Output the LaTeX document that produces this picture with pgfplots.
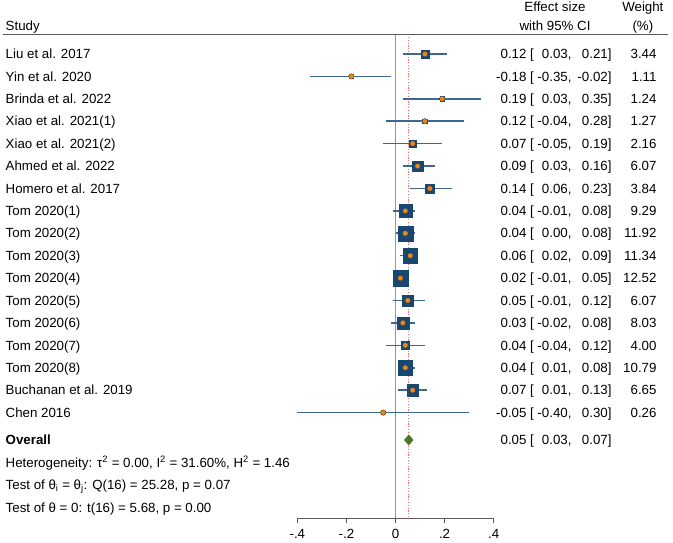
\documentclass[border=0pt]{standalone}
\usepackage{pgfplots}
\pgfplotsset{compat=1.18}
\usepackage{pgfplotstable}
\usepackage{fontspec}
\setmainfont{Liberation Sans}
\definecolor{navy}{RGB}{26,71,111}
\definecolor{cicol}{RGB}{62,102,146}
\definecolor{dotor}{RGB}{240,132,12}
\definecolor{diagreen}{RGB}{76,118,40}
\definecolor{refred}{RGB}{255,110,110}
\definecolor{zerogray}{RGB}{150,150,150}
\definecolor{hdrgray}{RGB}{90,90,90}
\pgfplotstableread{
y      est    lo     hi     w
-54.0   0.12   0.03  0.21   3.44
-76.4  -0.18  -0.35 -0.02   1.11
-98.8   0.19   0.03  0.35   1.24
-121.2  0.12  -0.04  0.28   1.27
-143.6  0.07  -0.05  0.19   2.16
-166.1  0.09   0.03  0.16   6.07
-188.5  0.14   0.06  0.23   3.84
-210.9  0.04  -0.01  0.08   9.29
-233.3  0.04   0.00  0.08  11.92
-255.7  0.06   0.02  0.09  11.34
-278.1  0.02  -0.01  0.05  12.52
-300.5  0.05  -0.01  0.12   6.07
-322.9  0.03  -0.02  0.08   8.03
-345.3  0.04  -0.04  0.12   4.00
-367.7  0.04   0.01  0.08  10.79
-390.2  0.07   0.01  0.13   6.65
-412.6 -0.05  -0.40  0.30   0.26
}\studies
\newcommand\fs{\fontsize{13.3pt}{15pt}\selectfont}
\newcommand\lbl[2]{\node[anchor=base west, yshift=-4.7pt] at (axis cs:-1.5892,-#1) {#2};}
\newcommand\cirow[5]{%
 \node[anchor=base east, yshift=-4.7pt] at (axis cs:0.5346,-#1) {#2};
 \node[anchor=base west, yshift=-4.7pt] at (axis cs:0.5481,-#1) {[};
 \node[anchor=base east, yshift=-4.7pt] at (axis cs:0.7180,-#1) {#3,};
 \node[anchor=base east, yshift=-4.7pt] at (axis cs:0.8810,-#1) {#4]};
 \node[anchor=base east, yshift=-4.7pt] at (axis cs:1.0644,-#1) {#5};}
\newcommand\xtk[2]{%
 \draw[hdrgray, line width=0.8pt] (axis cs:#1,-518.3) -- (axis cs:#1,-522.5);
 \node[anchor=base, yshift=-4.7pt] at (axis cs:#1,-534) {#2};}
\begin{document}
\begin{tikzpicture}[every node/.style={font=\fs, inner sep=0pt}]
\begin{axis}[scale only axis, width=673pt, height=542pt, hide axis, clip=false,
  xmin=-1.6117, xmax=1.1308, ymin=-542, ymax=0, enlargelimits=false]
\path (rel axis cs:0,0) rectangle (rel axis cs:1,1);
% reference lines
\addplot[zerogray, line width=1pt] coordinates {(0,-34.3) (0,-518.3)};
\addplot[refred, line width=1pt, dash pattern=on 1.2pt off 1.6pt] coordinates {(0.054,-34.3) (0.054,-518.3)};
% CIs
\addplot[only marks, mark=none, line width=1.6pt, error bars/.cd, x dir=both, x explicit, error mark=none,
  error bar style={line width=1.6pt, cicol}]
  table[x=est, y=y, x error plus expr=\thisrow{hi}-\thisrow{est}, x error minus expr=\thisrow{est}-\thisrow{lo}] \studies;
% weight squares
\addplot[scatter, only marks, mark=square*, scatter/use mapped color={draw=navy, fill=navy},
  visualization depends on={2.15*sqrt(\thisrow{w}) \as \msz},
  scatter/@pre marker code/.append style={/tikz/mark size=\msz}]
  table[x=est, y=y] \studies;
% point estimates
\addplot[only marks, mark=*, mark size=2.2pt, draw=dotor, fill=dotor] table[x=est, y=y] \studies;
% overall diamond
\addplot[fill=diagreen, draw=diagreen] coordinates {(0.036,-440) (0.054,-434.8) (0.072,-440) (0.054,-445.2) (0.036,-440)};
% header
\node[anchor=base west, yshift=-4.7pt] at (axis cs:-1.5892,-25.5) {Study};
\node[anchor=base, yshift=-4.7pt] at (axis cs:0.6500,-7.3) {Effect size};
\node[anchor=base, yshift=-4.7pt] at (axis cs:0.6500,-26) {with 95\% CI};
\node[anchor=base, yshift=-4.7pt] at (axis cs:1.0080,-7.3) {Weight};
\node[anchor=base, yshift=-4.7pt] at (axis cs:1.0080,-26) {(\%)};
\draw[hdrgray, line width=1.2pt] (axis cs:-1.6015,-34.3) -- (axis cs:1.1104,-34.3);
% study labels
\lbl{54.0}{Liu et al. 2017}
\lbl{76.4}{Yin et al. 2020}
\lbl{98.8}{Brinda et al. 2022}
\lbl{121.2}{Xiao et al. 2021(1)}
\lbl{143.6}{Xiao et al. 2021(2)}
\lbl{166.1}{Ahmed et al. 2022}
\lbl{188.5}{Homero et al. 2017}
\lbl{210.9}{Tom 2020(1)}
\lbl{233.3}{Tom 2020(2)}
\lbl{255.7}{Tom 2020(3)}
\lbl{278.1}{Tom 2020(4)}
\lbl{300.5}{Tom 2020(5)}
\lbl{322.9}{Tom 2020(6)}
\lbl{345.3}{Tom 2020(7)}
\lbl{367.7}{Tom 2020(8)}
\lbl{390.2}{Buchanan et al. 2019}
\lbl{412.6}{Chen 2016}
\lbl{440}{\bfseries Overall}
\lbl{462.7}{Heterogeneity: τ\textsuperscript{2} = 0.00, I\textsuperscript{2} = 31.60\%, H\textsuperscript{2} = 1.46}
\lbl{485.1}{Test of θ\textsubscript{i} = θ\textsubscript{j}: Q(16) = 25.28, p = 0.07}
\lbl{507.5}{Test of θ = 0: t(16) = 5.68, p = 0.00}
% effect size columns
\cirow{54.0}{0.12}{0.03}{0.21}{3.44}
\cirow{76.4}{-0.18}{-0.35}{-0.02}{1.11}
\cirow{98.8}{0.19}{0.03}{0.35}{1.24}
\cirow{121.2}{0.12}{-0.04}{0.28}{1.27}
\cirow{143.6}{0.07}{-0.05}{0.19}{2.16}
\cirow{166.1}{0.09}{0.03}{0.16}{6.07}
\cirow{188.5}{0.14}{0.06}{0.23}{3.84}
\cirow{210.9}{0.04}{-0.01}{0.08}{9.29}
\cirow{233.3}{0.04}{0.00}{0.08}{11.92}
\cirow{255.7}{0.06}{0.02}{0.09}{11.34}
\cirow{278.1}{0.02}{-0.01}{0.05}{12.52}
\cirow{300.5}{0.05}{-0.01}{0.12}{6.07}
\cirow{322.9}{0.03}{-0.02}{0.08}{8.03}
\cirow{345.3}{0.04}{-0.04}{0.12}{4.00}
\cirow{367.7}{0.04}{0.01}{0.08}{10.79}
\cirow{390.2}{0.07}{0.01}{0.13}{6.65}
\cirow{412.6}{-0.05}{-0.40}{0.30}{0.26}
\cirow{440}{0.05}{0.03}{0.07}{}
% x axis
\draw[hdrgray, line width=0.8pt] (axis cs:-0.4,-518.3) -- (axis cs:0.4,-518.3);
\xtk{-0.4}{-.4}
\xtk{-0.2}{-.2}
\xtk{0}{0}
\xtk{0.2}{.2}
\xtk{0.4}{.4}
\end{axis}
\end{tikzpicture}
\end{document}
